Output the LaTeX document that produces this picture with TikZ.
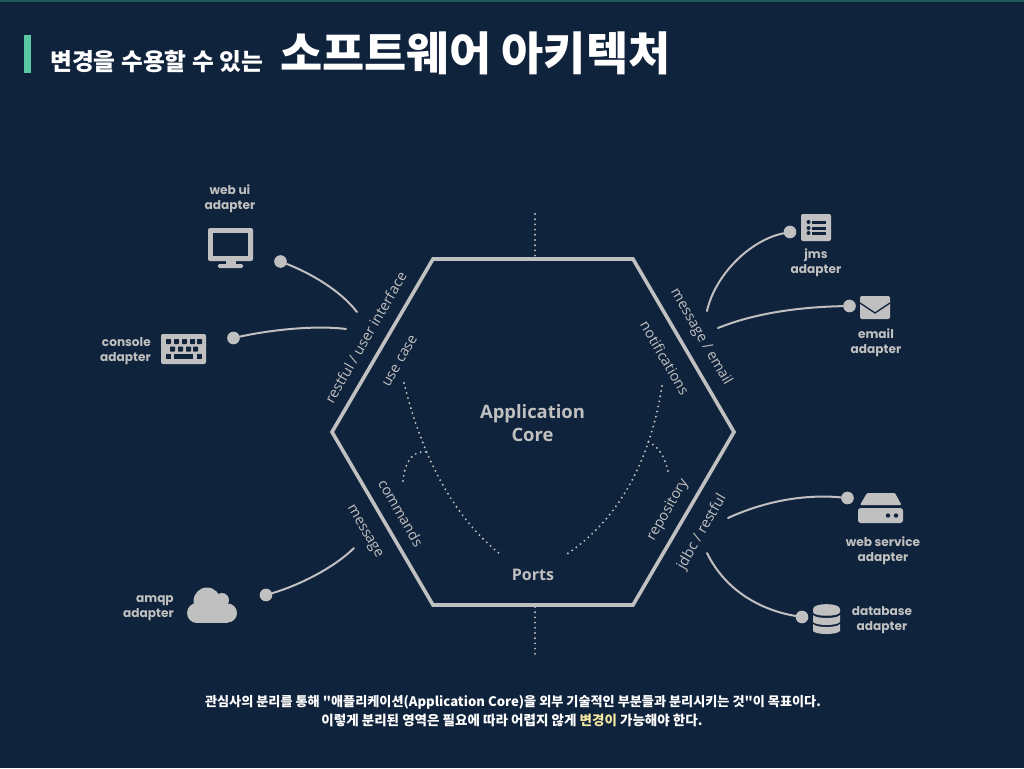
\documentclass[tikz,border=0pt]{standalone}
\usepackage{fontspec}
\setmainfont{Noto Sans CJK KR}
\newfontfamily\plainf{Noto Sans CJK KR}
\newfontfamily\adfont{Poppins}
\newfontfamily\portfont{Open Sans}
\definecolor{bg}{HTML}{10233C}
\definecolor{fg}{HTML}{C0C0C0}
\definecolor{bar}{HTML}{5AC8A4}
\definecolor{topline}{HTML}{1E5A5C}
\definecolor{hi}{HTML}{F4E7A2}
\tikzset{
  x=0.75pt,y=-0.75pt,
  hexline/.style={draw=fg,line width=2.7pt,line join=miter},
  port/.style={fg,font=\portfont\fontsize{10.8}{12}\selectfont,inner sep=0pt},
  ad/.style={fg,font=\adfont\bfseries\fontsize{9.1}{11.3}\selectfont,align=center,inner sep=0pt},
  core/.style={fg,font=\portfont\bfseries\fontsize{13.8}{17.2}\selectfont,align=center,inner sep=0pt},
  pin/.style={circle,fill=fg,minimum size=9.5pt,inner sep=0pt},
  wire/.style={draw=fg,line width=1.5pt,line cap=round},
  dots/.style={draw=fg,line width=1.6pt,line cap=round,dash pattern=on 0pt off 3.9pt},
  icon/.style={fill=fg,draw=none},
  cut/.style={fill=bg,draw=none},
  foot/.style={white,inner sep=0pt,font=\plainf\bfseries\fontsize{9.85}{13.5}\selectfont}
}
\begin{document}
\begin{tikzpicture}
\useasboundingbox (0,0) rectangle (1024,768);
\fill[bg] (0,0) rectangle (1024,768);
\fill[topline] (0,0) rectangle (1024,2);
\fill[bar] (24,35) rectangle (31,73);
\node[anchor=base west,white,inner sep=0pt,font=\bfseries\fontsize{17.8}{20}\selectfont] (sub) at (50,70) {변경을 수용할 수 있는};
\node[anchor=base west,white,inner sep=0pt,font=\bfseries\fontsize{34.4}{38}\selectfont] (ttl) at (280,70) {소프트웨어 아키텍처};
% hexagon
\coordinate (h1) at (433,259); \coordinate (h2) at (633,259); \coordinate (h3) at (734,432);
\coordinate (h4) at (633,605); \coordinate (h5) at (433,605); \coordinate (h6) at (332,432);
\draw[hexline] (h1) -- (h2) -- (h3) -- (h4) -- (h5) -- (h6) -- cycle;
\coordinate (t0) at (535,214); \coordinate (t1) at (535,257);
\coordinate (b0) at (535,607); \coordinate (b1) at (535,655);
\draw[dots] (t0) -- (t1);
\draw[dots] (b0) -- (b1);
% core text
\node[core] (app) at (532.5,423.5) {Application\\Core};
\node[core,font=\portfont\bfseries\fontsize{12}{14}\selectfont] (ports) at (533,574.5) {Ports};
% port labels
\node[port,rotate=60] (l1) at (365.5,337.5) {restful / user interface};
\node[port,rotate=60] (l2) at (400,361) {use case};
\node[port,rotate=-60] (l3) at (401,513) {commands};
\node[port,rotate=-60] (l4) at (364,532) {message};
\node[port,rotate=-60] (l5) at (701,337) {message / email};
\node[port,rotate=-60] (l6) at (665,358) {notifications};
\node[port,rotate=60] (l7) at (668,510) {repository};
\node[port,rotate=60] (l8) at (702,532) {jdbc / restful};
% dotted port curves
\coordinate (d1) at (404,383); \coordinate (d2) at (500,554); \coordinate (d3) at (427,452);
\coordinate (d4) at (403,481); \coordinate (d5) at (662,386); \coordinate (d6) at (567,554);
\coordinate (d7) at (648,442); \coordinate (d8) at (668,471);
\draw[dots] (d1) .. controls (418,440) and (445,510) .. (d2);
\draw[dots] (d4) .. controls (405,462) and (412,450) .. (d3);
\draw[dots] (d5) .. controls (652,450) and (625,515) .. (d6);
\draw[dots] (d8) .. controls (664,455) and (658,446) .. (d7);
% pins
\node[pin] (p1) at (280.5,261.5) {};
\node[pin] (p2) at (233.5,338) {};
\node[pin] (p3) at (790,232) {};
\node[pin] (p4) at (849.5,306) {};
\node[pin] (p5) at (847.5,498) {};
\node[pin] (p6) at (802,617) {};
\node[pin] (p7) at (266,595) {};
\coordinate (e1) at (357,312); \coordinate (e2) at (346,329); \coordinate (e3) at (707,311);
\coordinate (e4) at (718,328); \coordinate (e5) at (728,518); \coordinate (e6) at (707,553);
\coordinate (e7) at (354,548);
\draw[wire] (p1) .. controls (310,273) and (340,290) .. (e1);
\draw[wire] (p2) .. controls (270,330) and (315,325) .. (e2);
\draw[wire] (p3) .. controls (750,240) and (715,275) .. (e3);
\draw[wire] (p4) .. controls (800,307) and (755,313) .. (e4);
\draw[wire] (p5) .. controls (805,494) and (765,501) .. (e5);
\draw[wire] (p6) .. controls (760,610) and (725,590) .. (e6);
\draw[wire] (p7) .. controls (300,585) and (335,567) .. (e7);
% adapter labels
\node[ad] (a1) at (230,198.5) {web ui\\adapter};
\node[ad,align=right,anchor=east] (a2) at (151,351.5) {console\\adapter};
\node[ad] (a3) at (816,262.5) {jms\\adapter};
\node[ad] (a4) at (876,342.5) {email\\adapter};
\node[ad] (a5) at (883,550.5) {web service\\adapter};
\node[ad] (a6) at (882,620.5) {database\\adapter};
\node[ad,align=right,anchor=east] (a7) at (174,608.5) {amqp\\adapter};
% monitor icon
\fill[icon,rounded corners=1.5pt] (208,228) rectangle (253,261);
\fill[cut] (213,233) rectangle (248,256);
\fill[icon] (226,261) rectangle (236,265);
\fill[icon,rounded corners=1pt] (218,264) rectangle (243,268);
% keyboard icon
\fill[icon,rounded corners=1.5pt] (161,334) rectangle (206,364);
\foreach \kx in {166,174,182,190,197} \fill[cut,rounded corners=.4pt] (\kx,339) rectangle +(5,5);
\foreach \kx in {170,178,186,193} \fill[cut,rounded corners=.4pt] (\kx,346.5) rectangle +(5,5);
\fill[cut] (166,354) rectangle +(5,5);
\fill[cut] (174,354) rectangle (193,359);
\fill[cut] (197,354) rectangle +(5,5);
% jms icon
\fill[icon,rounded corners=1.5pt] (801,214) rectangle (831,241);
\foreach \jy in {222,228,233}{
  \fill[cut] (808.5,\jy) circle[radius=2];
  \fill[cut] (812,\jy-1.5) rectangle (826,\jy+1.5);
}
% email icon
\fill[icon,rounded corners=1.5pt] (860,296) rectangle (890,319);
\draw[draw=bg,line width=1pt] (860,303) -- (875,313) -- (890,303);
% web service icon
\fill[icon,rounded corners=.8pt] (867,493) -- (895,493) -- (901.5,505) -- (860,505) -- cycle;
\fill[icon,rounded corners=2pt] (858,508) rectangle (903,523);
\fill[cut] (888,515.5) circle[radius=2.2];
\fill[cut] (896,515.5) circle[radius=2.2];
% database icon
\fill[icon] (813,609) .. controls (813,602.5) and (840,602.5) .. (840,609) -- (840,612) .. controls (840,617) and (813,617) .. (813,612) -- cycle;
\fill[icon] (813,615) .. controls (816,619) and (837,619) .. (840,615) -- (840,622) .. controls (837,626) and (816,626) .. (813,622) -- cycle;
\fill[icon] (813,624) .. controls (816,628) and (837,628) .. (840,624) -- (840,631) .. controls (837,635) and (816,635) .. (813,631) -- cycle;
% cloud icon
\fill[icon] (207,601) circle[radius=13.5];
\fill[icon] (222,600) circle[radius=7];
\fill[icon] (197,613) circle[radius=10];
\fill[icon] (227.5,613) circle[radius=9.5];
\fill[icon] (197,604) rectangle (228,623);
% footer
\node[foot] (f1) at (513,702) {관심사의 분리를 통해 "애플리케이션(Application Core)을 외부 기술적인 부분들과 분리시키는 것"이 목표이다.};
\node[foot,font=\plainf\bfseries\fontsize{10.15}{13.5}\selectfont] (f2) at (512,720) {이렇게 분리된 영역은 필요에 따라 어렵지 않게 \textcolor{hi}{변경이} 가능해야 한다.};
\end{tikzpicture}
\end{document}
